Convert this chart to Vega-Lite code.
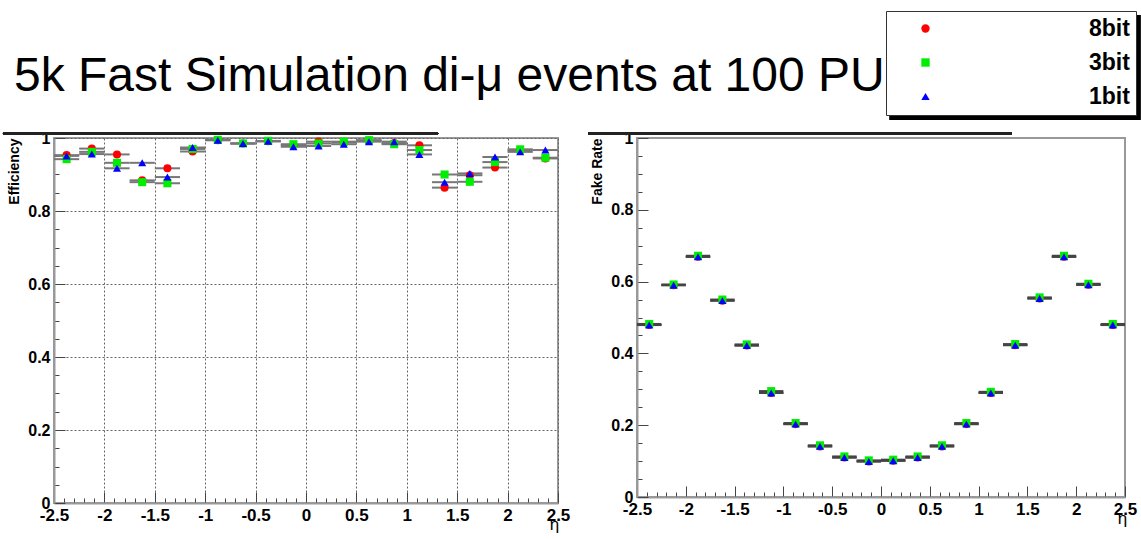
{
  "$schema": "https://vega.github.io/schema/vega-lite/v6.json",
  "background": "white",
  "padding": {"left": 0, "top": 10, "right": 0, "bottom": 0},
  "title": {"text": "5k Fast Simulation di-μ events at 100 PU", "anchor": "start", "font": "Liberation Sans", "fontSize": 48, "fontWeight": "normal", "color": "black", "baseline": "alphabetic", "offset": -82, "dx": 13, "dy": 46},
  "bounds": "flush",
  "spacing": 79,
  "config": {
    "view": {"stroke": "#999", "strokeWidth": 2},
    "axis": {
      "labelFont": "Liberation Sans", "labelFontWeight": "bold", "labelColor": "black",
      "labelFlush": false, "labelOverlap": false, "labelBound": false,
      "titleFont": "Liberation Sans", "titleColor": "black",
      "domainColor": "#999", "domainWidth": 2, "tickColor": "#444", "tickWidth": 1,
      "gridColor": "#666", "gridDash": [2, 2], "gridWidth": 1
    },
    "legend": {
      "orient": "none", "legendX": 832, "legendY": -127, "title": null,
      "labelFont": "Liberation Sans", "labelFontWeight": "bold", "labelFontSize": 23, "labelColor": "black",
      "symbolOffset": 22, "labelOffset": 152, "symbolSize": 70, "symbolStrokeWidth": 0,
      "strokeColor": "#333", "fillColor": "white", "padding": 6, "rowPadding": 10
    }
  },
  "datasets": {
    "eff": [
      {"series": "8bit", "eta": -2.375, "lo": -2.5, "hi": -2.25, "v": 0.953},
      {"series": "8bit", "eta": -2.125, "lo": -2.25, "hi": -2.0, "v": 0.971},
      {"series": "8bit", "eta": -1.875, "lo": -2.0, "hi": -1.75, "v": 0.955},
      {"series": "8bit", "eta": -1.625, "lo": -1.75, "hi": -1.5, "v": 0.884},
      {"series": "8bit", "eta": -1.375, "lo": -1.5, "hi": -1.25, "v": 0.917},
      {"series": "8bit", "eta": -1.125, "lo": -1.25, "hi": -1.0, "v": 0.963},
      {"series": "8bit", "eta": -0.875, "lo": -1.0, "hi": -0.75, "v": 0.994},
      {"series": "8bit", "eta": -0.625, "lo": -0.75, "hi": -0.5, "v": 0.985},
      {"series": "8bit", "eta": -0.375, "lo": -0.5, "hi": -0.25, "v": 0.991},
      {"series": "8bit", "eta": -0.125, "lo": -0.25, "hi": 0.0, "v": 0.980},
      {"series": "8bit", "eta": 0.125, "lo": 0.0, "hi": 0.25, "v": 0.990},
      {"series": "8bit", "eta": 0.375, "lo": 0.25, "hi": 0.5, "v": 0.988},
      {"series": "8bit", "eta": 0.625, "lo": 0.5, "hi": 0.75, "v": 0.993},
      {"series": "8bit", "eta": 0.875, "lo": 0.75, "hi": 1.0, "v": 0.986},
      {"series": "8bit", "eta": 1.125, "lo": 1.0, "hi": 1.25, "v": 0.980},
      {"series": "8bit", "eta": 1.375, "lo": 1.25, "hi": 1.5, "v": 0.864},
      {"series": "8bit", "eta": 1.625, "lo": 1.5, "hi": 1.75, "v": 0.898},
      {"series": "8bit", "eta": 1.875, "lo": 1.75, "hi": 2.0, "v": 0.919},
      {"series": "8bit", "eta": 2.125, "lo": 2.0, "hi": 2.25, "v": 0.966},
      {"series": "8bit", "eta": 2.375, "lo": 2.25, "hi": 2.5, "v": 0.944},
      {"series": "3bit", "eta": -2.375, "lo": -2.5, "hi": -2.25, "v": 0.942},
      {"series": "3bit", "eta": -2.125, "lo": -2.25, "hi": -2.0, "v": 0.962},
      {"series": "3bit", "eta": -1.875, "lo": -2.0, "hi": -1.75, "v": 0.932},
      {"series": "3bit", "eta": -1.625, "lo": -1.75, "hi": -1.5, "v": 0.879},
      {"series": "3bit", "eta": -1.375, "lo": -1.5, "hi": -1.25, "v": 0.876},
      {"series": "3bit", "eta": -1.125, "lo": -1.25, "hi": -1.0, "v": 0.970},
      {"series": "3bit", "eta": -0.875, "lo": -1.0, "hi": -0.75, "v": 0.995},
      {"series": "3bit", "eta": -0.625, "lo": -0.75, "hi": -0.5, "v": 0.985},
      {"series": "3bit", "eta": -0.375, "lo": -0.5, "hi": -0.25, "v": 0.992},
      {"series": "3bit", "eta": -0.125, "lo": -0.25, "hi": 0.0, "v": 0.983},
      {"series": "3bit", "eta": 0.125, "lo": 0.0, "hi": 0.25, "v": 0.985},
      {"series": "3bit", "eta": 0.375, "lo": 0.25, "hi": 0.5, "v": 0.990},
      {"series": "3bit", "eta": 0.625, "lo": 0.5, "hi": 0.75, "v": 0.994},
      {"series": "3bit", "eta": 0.875, "lo": 0.75, "hi": 1.0, "v": 0.983},
      {"series": "3bit", "eta": 1.125, "lo": 1.0, "hi": 1.25, "v": 0.967},
      {"series": "3bit", "eta": 1.375, "lo": 1.25, "hi": 1.5, "v": 0.900},
      {"series": "3bit", "eta": 1.625, "lo": 1.5, "hi": 1.75, "v": 0.880},
      {"series": "3bit", "eta": 1.875, "lo": 1.75, "hi": 2.0, "v": 0.934},
      {"series": "3bit", "eta": 2.125, "lo": 2.0, "hi": 2.25, "v": 0.969},
      {"series": "3bit", "eta": 2.375, "lo": 2.25, "hi": 2.5, "v": 0.946},
      {"series": "1bit", "eta": -2.375, "lo": -2.5, "hi": -2.25, "v": 0.951},
      {"series": "1bit", "eta": -2.125, "lo": -2.25, "hi": -2.0, "v": 0.956},
      {"series": "1bit", "eta": -1.875, "lo": -2.0, "hi": -1.75, "v": 0.917},
      {"series": "1bit", "eta": -1.625, "lo": -1.75, "hi": -1.5, "v": 0.932},
      {"series": "1bit", "eta": -1.375, "lo": -1.5, "hi": -1.25, "v": 0.893},
      {"series": "1bit", "eta": -1.125, "lo": -1.25, "hi": -1.0, "v": 0.974},
      {"series": "1bit", "eta": -0.875, "lo": -1.0, "hi": -0.75, "v": 0.994},
      {"series": "1bit", "eta": -0.625, "lo": -0.75, "hi": -0.5, "v": 0.985},
      {"series": "1bit", "eta": -0.375, "lo": -0.5, "hi": -0.25, "v": 0.991},
      {"series": "1bit", "eta": -0.125, "lo": -0.25, "hi": 0.0, "v": 0.976},
      {"series": "1bit", "eta": 0.125, "lo": 0.0, "hi": 0.25, "v": 0.978},
      {"series": "1bit", "eta": 0.375, "lo": 0.25, "hi": 0.5, "v": 0.983},
      {"series": "1bit", "eta": 0.625, "lo": 0.5, "hi": 0.75, "v": 0.990},
      {"series": "1bit", "eta": 0.875, "lo": 0.75, "hi": 1.0, "v": 0.990},
      {"series": "1bit", "eta": 1.125, "lo": 1.0, "hi": 1.25, "v": 0.955},
      {"series": "1bit", "eta": 1.375, "lo": 1.25, "hi": 1.5, "v": 0.879},
      {"series": "1bit", "eta": 1.625, "lo": 1.5, "hi": 1.75, "v": 0.903},
      {"series": "1bit", "eta": 1.875, "lo": 1.75, "hi": 2.0, "v": 0.948},
      {"series": "1bit", "eta": 2.125, "lo": 2.0, "hi": 2.25, "v": 0.962},
      {"series": "1bit", "eta": 2.375, "lo": 2.25, "hi": 2.5, "v": 0.967}
    ],
    "fake": [
      {"series": "8bit", "eta": -2.375, "lo": -2.5, "hi": -2.25, "v": 0.479},
      {"series": "8bit", "eta": -2.125, "lo": -2.25, "hi": -2.0, "v": 0.590},
      {"series": "8bit", "eta": -1.875, "lo": -2.0, "hi": -1.75, "v": 0.669},
      {"series": "8bit", "eta": -1.625, "lo": -1.75, "hi": -1.5, "v": 0.547},
      {"series": "8bit", "eta": -1.375, "lo": -1.5, "hi": -1.25, "v": 0.422},
      {"series": "8bit", "eta": -1.125, "lo": -1.25, "hi": -1.0, "v": 0.290},
      {"series": "8bit", "eta": -0.875, "lo": -1.0, "hi": -0.75, "v": 0.203},
      {"series": "8bit", "eta": -0.625, "lo": -0.75, "hi": -0.5, "v": 0.141},
      {"series": "8bit", "eta": -0.375, "lo": -0.5, "hi": -0.25, "v": 0.110},
      {"series": "8bit", "eta": -0.125, "lo": -0.25, "hi": 0.0, "v": 0.099},
      {"series": "8bit", "eta": 0.125, "lo": 0.0, "hi": 0.25, "v": 0.101},
      {"series": "8bit", "eta": 0.375, "lo": 0.25, "hi": 0.5, "v": 0.110},
      {"series": "8bit", "eta": 0.625, "lo": 0.5, "hi": 0.75, "v": 0.141},
      {"series": "8bit", "eta": 0.875, "lo": 0.75, "hi": 1.0, "v": 0.203},
      {"series": "8bit", "eta": 1.125, "lo": 1.0, "hi": 1.25, "v": 0.290},
      {"series": "8bit", "eta": 1.375, "lo": 1.25, "hi": 1.5, "v": 0.423},
      {"series": "8bit", "eta": 1.625, "lo": 1.5, "hi": 1.75, "v": 0.553},
      {"series": "8bit", "eta": 1.875, "lo": 1.75, "hi": 2.0, "v": 0.669},
      {"series": "8bit", "eta": 2.125, "lo": 2.0, "hi": 2.25, "v": 0.591},
      {"series": "8bit", "eta": 2.375, "lo": 2.25, "hi": 2.5, "v": 0.479},
      {"series": "3bit", "eta": -2.375, "lo": -2.5, "hi": -2.25, "v": 0.482},
      {"series": "3bit", "eta": -2.125, "lo": -2.25, "hi": -2.0, "v": 0.592},
      {"series": "3bit", "eta": -1.875, "lo": -2.0, "hi": -1.75, "v": 0.672},
      {"series": "3bit", "eta": -1.625, "lo": -1.75, "hi": -1.5, "v": 0.550},
      {"series": "3bit", "eta": -1.375, "lo": -1.5, "hi": -1.25, "v": 0.425},
      {"series": "3bit", "eta": -1.125, "lo": -1.25, "hi": -1.0, "v": 0.295},
      {"series": "3bit", "eta": -0.875, "lo": -1.0, "hi": -0.75, "v": 0.206},
      {"series": "3bit", "eta": -0.625, "lo": -0.75, "hi": -0.5, "v": 0.144},
      {"series": "3bit", "eta": -0.375, "lo": -0.5, "hi": -0.25, "v": 0.113},
      {"series": "3bit", "eta": -0.125, "lo": -0.25, "hi": 0.0, "v": 0.102},
      {"series": "3bit", "eta": 0.125, "lo": 0.0, "hi": 0.25, "v": 0.104},
      {"series": "3bit", "eta": 0.375, "lo": 0.25, "hi": 0.5, "v": 0.113},
      {"series": "3bit", "eta": 0.625, "lo": 0.5, "hi": 0.75, "v": 0.144},
      {"series": "3bit", "eta": 0.875, "lo": 0.75, "hi": 1.0, "v": 0.206},
      {"series": "3bit", "eta": 1.125, "lo": 1.0, "hi": 1.25, "v": 0.293},
      {"series": "3bit", "eta": 1.375, "lo": 1.25, "hi": 1.5, "v": 0.426},
      {"series": "3bit", "eta": 1.625, "lo": 1.5, "hi": 1.75, "v": 0.556},
      {"series": "3bit", "eta": 1.875, "lo": 1.75, "hi": 2.0, "v": 0.672},
      {"series": "3bit", "eta": 2.125, "lo": 2.0, "hi": 2.25, "v": 0.594},
      {"series": "3bit", "eta": 2.375, "lo": 2.25, "hi": 2.5, "v": 0.482},
      {"series": "1bit", "eta": -2.375, "lo": -2.5, "hi": -2.25, "v": 0.479},
      {"series": "1bit", "eta": -2.125, "lo": -2.25, "hi": -2.0, "v": 0.590},
      {"series": "1bit", "eta": -1.875, "lo": -2.0, "hi": -1.75, "v": 0.669},
      {"series": "1bit", "eta": -1.625, "lo": -1.75, "hi": -1.5, "v": 0.547},
      {"series": "1bit", "eta": -1.375, "lo": -1.5, "hi": -1.25, "v": 0.422},
      {"series": "1bit", "eta": -1.125, "lo": -1.25, "hi": -1.0, "v": 0.290},
      {"series": "1bit", "eta": -0.875, "lo": -1.0, "hi": -0.75, "v": 0.203},
      {"series": "1bit", "eta": -0.625, "lo": -0.75, "hi": -0.5, "v": 0.141},
      {"series": "1bit", "eta": -0.375, "lo": -0.5, "hi": -0.25, "v": 0.110},
      {"series": "1bit", "eta": -0.125, "lo": -0.25, "hi": 0.0, "v": 0.099},
      {"series": "1bit", "eta": 0.125, "lo": 0.0, "hi": 0.25, "v": 0.101},
      {"series": "1bit", "eta": 0.375, "lo": 0.25, "hi": 0.5, "v": 0.110},
      {"series": "1bit", "eta": 0.625, "lo": 0.5, "hi": 0.75, "v": 0.141},
      {"series": "1bit", "eta": 0.875, "lo": 0.75, "hi": 1.0, "v": 0.203},
      {"series": "1bit", "eta": 1.125, "lo": 1.0, "hi": 1.25, "v": 0.290},
      {"series": "1bit", "eta": 1.375, "lo": 1.25, "hi": 1.5, "v": 0.423},
      {"series": "1bit", "eta": 1.625, "lo": 1.5, "hi": 1.75, "v": 0.553},
      {"series": "1bit", "eta": 1.875, "lo": 1.75, "hi": 2.0, "v": 0.669},
      {"series": "1bit", "eta": 2.125, "lo": 2.0, "hi": 2.25, "v": 0.591},
      {"series": "1bit", "eta": 2.375, "lo": 2.25, "hi": 2.5, "v": 0.479}
    ]
  },
  "hconcat": [
    {
      "width": 504, "height": 365,
      "data": {"name": "eff"},
      "layer": [
        {
          "mark": {"type": "rule", "strokeWidth": 2, "color": "#777"},
          "encoding": {
            "x": {"field": "lo", "type": "quantitative", "scale": {"domain": [-2.5, 2.5], "nice": false, "zero": false},
              "axis": {"title": "η", "titleX": 500, "titleY": 13, "titleBaseline": "top", "titleAlign": "center", "titleFontSize": 17, "titleFontWeight": "normal", "labelFontSize": 17, "labelOverlap": false, "tickCount": 100,
                "values": [-2.5,-2.4,-2.3,-2.2,-2.1,-2,-1.9,-1.8,-1.7,-1.6,-1.5,-1.4,-1.3,-1.2,-1.1,-1,-0.9,-0.8,-0.7,-0.6,-0.5,-0.4,-0.3,-0.2,-0.1,0,0.1,0.2,0.3,0.4,0.5,0.6,0.7,0.8,0.9,1,1.1,1.2,1.3,1.4,1.5,1.6,1.7,1.8,1.9,2,2.1,2.2,2.3,2.4,2.5],
                "labelExpr": "abs(datum.value*2 - round(datum.value*2)) < 0.001 ? '' + datum.value : ''",
                "tickSize": {"condition": {"test": "abs(datum.value*2 - round(datum.value*2)) < 0.001", "value": -11}, "value": -5},
                "gridOpacity": {"condition": {"test": "abs(datum.value*2 - round(datum.value*2)) < 0.001", "value": 1}, "value": 0},
                "labelPadding": 15}},
            "x2": {"field": "hi"},
            "y": {"field": "v", "type": "quantitative", "scale": {"domain": [0, 1], "nice": false, "zero": false},
              "axis": {"title": "Efficiency", "titleAnchor": "end", "titleFontSize": 14, "titleFontWeight": "bold", "titlePadding": 6, "labelFontSize": 16, "labelOverlap": false, "tickCount": 100,
                "values": [0,0.05,0.1,0.15,0.2,0.25,0.3,0.35,0.4,0.45,0.5,0.55,0.6,0.65,0.7,0.75,0.8,0.85,0.9,0.95,1],
                "labelExpr": "abs(datum.value*5 - round(datum.value*5)) < 0.001 ? '' + datum.value : ''",
                "tickSize": {"condition": {"test": "abs(datum.value*5 - round(datum.value*5)) < 0.001", "value": -11}, "value": -5},
                "gridOpacity": {"condition": {"test": "abs(datum.value*5 - round(datum.value*5)) < 0.001", "value": 1}, "value": 0},
                "labelPadding": 15}}
          }
        },
        {
          "mark": {"type": "rule", "strokeWidth": 2, "color": "#222", "clip": false},
          "encoding": {
            "x": {"datum": -3.006, "type": "quantitative"},
            "x2": {"datum": 1.31},
            "y": {"datum": 1.0125, "type": "quantitative"}
          }
        },
        {
          "mark": {"type": "point", "filled": true, "size": 65, "opacity": 1},
          "encoding": {
            "x": {"field": "eta", "type": "quantitative"},
            "y": {"field": "v", "type": "quantitative"},
            "color": {"field": "series", "type": "nominal", "scale": {"domain": ["8bit", "3bit", "1bit"], "range": ["#ff0000", "#00ee00", "#0000ff"]}},
            "shape": {"field": "series", "type": "nominal", "scale": {"domain": ["8bit", "3bit", "1bit"], "range": ["circle", "square", "triangle-up"]}}
          }
        }
      ]
    },
    {
      "width": 488, "height": 359,
      "data": {"name": "fake"},
      "layer": [
        {
          "mark": {"type": "rect", "color": "black", "clip": false},
          "encoding": {
            "x": {"datum": 0.092, "type": "quantitative"},
            "x2": {"datum": 2.654},
            "y": {"datum": 1.3426, "type": "quantitative"},
            "y2": {"datum": 1.0501}
          }
        },
        {
          "mark": {"type": "rule", "strokeWidth": 2, "color": "#444"},
          "encoding": {
            "x": {"field": "lo", "type": "quantitative", "scale": {"domain": [-2.5, 2.5], "nice": false, "zero": false},
              "axis": {"title": "η", "titleX": 485, "titleY": 13, "titleBaseline": "top", "titleAlign": "center", "titleFontSize": 17, "titleFontWeight": "normal", "labelFontSize": 17, "labelOverlap": false, "tickCount": 100,
                "values": [-2.5,-2.4,-2.3,-2.2,-2.1,-2,-1.9,-1.8,-1.7,-1.6,-1.5,-1.4,-1.3,-1.2,-1.1,-1,-0.9,-0.8,-0.7,-0.6,-0.5,-0.4,-0.3,-0.2,-0.1,0,0.1,0.2,0.3,0.4,0.5,0.6,0.7,0.8,0.9,1,1.1,1.2,1.3,1.4,1.5,1.6,1.7,1.8,1.9,2,2.1,2.2,2.3,2.4,2.5],
                "labelExpr": "abs(datum.value*2 - round(datum.value*2)) < 0.001 ? '' + datum.value : ''",
                "tickSize": {"condition": {"test": "abs(datum.value*2 - round(datum.value*2)) < 0.001", "value": -11}, "value": -5},
                "gridOpacity": {"condition": {"test": "abs(datum.value*2 - round(datum.value*2)) < 0.001", "value": 1}, "value": 0},
                "labelPadding": 15}},
            "x2": {"field": "hi"},
            "y": {"field": "v", "type": "quantitative", "scale": {"domain": [0, 1], "nice": false, "zero": false},
              "axis": {"title": "Fake Rate", "titleAnchor": "end", "titleFontSize": 14, "titleFontWeight": "bold", "titlePadding": 6, "labelFontSize": 16, "labelOverlap": false, "tickCount": 100,
                "values": [0,0.05,0.1,0.15,0.2,0.25,0.3,0.35,0.4,0.45,0.5,0.55,0.6,0.65,0.7,0.75,0.8,0.85,0.9,0.95,1],
                "labelExpr": "abs(datum.value*5 - round(datum.value*5)) < 0.001 ? '' + datum.value : ''",
                "tickSize": {"condition": {"test": "abs(datum.value*5 - round(datum.value*5)) < 0.001", "value": -11}, "value": -5},
                "gridOpacity": {"condition": {"test": "abs(datum.value*5 - round(datum.value*5)) < 0.001", "value": 1}, "value": 0},
                "labelPadding": 15}}
          }
        },
        {
          "mark": {"type": "rule", "strokeWidth": 2, "color": "#222", "clip": false},
          "encoding": {
            "x": {"datum": -3.002, "type": "quantitative"},
            "x2": {"datum": 1.342},
            "y": {"datum": 1.0125, "type": "quantitative"}
          }
        },
        {
          "mark": {"type": "point", "filled": true, "size": 65, "opacity": 1},
          "encoding": {
            "x": {"field": "eta", "type": "quantitative"},
            "y": {"field": "v", "type": "quantitative"},
            "color": {"field": "series", "type": "nominal", "scale": {"domain": ["8bit", "3bit", "1bit"], "range": ["#ff0000", "#00ee00", "#0000ff"]}},
            "shape": {"field": "series", "type": "nominal", "scale": {"domain": ["8bit", "3bit", "1bit"], "range": ["circle", "square", "triangle-up"]}}
          }
        }
      ]
    }
  ]
}
